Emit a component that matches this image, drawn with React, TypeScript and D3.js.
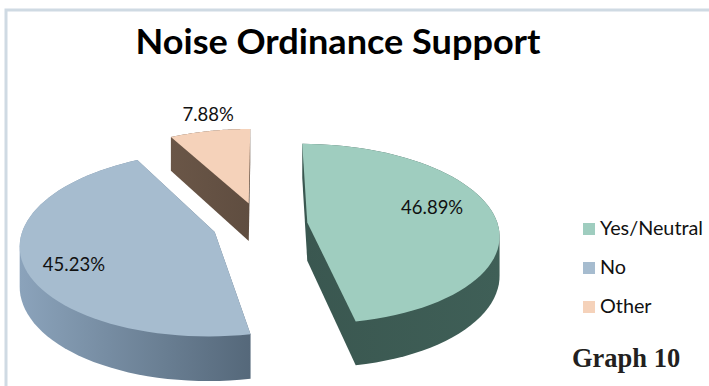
import React from "react";
import * as d3 from "d3";

const categories = ["Yes/Neutral", "No", "Other"];
const shares = [46.89, 45.23, 7.88];
const shareLabels = ["46.89%", "45.23%", "7.88%"];
const topColors = ["#9fcdbf", "#a6bccf", "#f5d2ba"];
const wallLeft = ["#3a5750", "#8ba3bb", "#6a5647"];
const wallRight = ["#3f5f57", "#55687a", "#5f4d40"];
const labelShift = [-9, -7, 2];
const labelRadius = [0.7, 0.77, 1.25];
const legendRows = [229, 268, 307];

const W = 709;
const H = 386;
const cx = 260;
const cy = 224.5;
const radiusX = 190.5;
const radiusY = 89;
const tilt = 0.127;
const depth = 38.5;
const explode = 0.25;
const startDeg = 0.1;

type Pt = [number, number];

const rad = (d: number) => (d * Math.PI) / 180;

// Perspective projection of a point on the unit disc, optionally dropped by the wall height.
const project = (u: number, v: number, drop = 0): Pt => {
  const w = 1 - tilt * v;
  return [cx + (radiusX * u) / w, cy + (radiusY * v + drop) / w];
};

const arcs = d3
  .pie<number>()
  .sort(null)
  .startAngle(rad(startDeg))
  .endAngle(rad(startDeg + 360))(shares);

const toPath = (pts: Pt[]) => (d3.line()(pts) ?? "") + "Z";

const slices = arcs.map((a, i) => {
  const mid = (a.startAngle + a.endAngle) / 2;
  const ou = explode * Math.sin(mid);
  const ov = -explode * Math.cos(mid);
  const unit = d3.range(0, 61).map((k) => {
    const t = a.startAngle + ((a.endAngle - a.startAngle) * k) / 60;
    return [ou + Math.sin(t), ov - Math.cos(t)] as Pt;
  });
  const outline: Pt[] = [[ou, ov], ...unit];
  const top = outline.map(([u, v]) => project(u, v));
  const bottom = outline.map(([u, v]) => project(u, v, depth));
  const hull = d3.polygonHull([...top, ...bottom]) as Pt[];
  const la = mid + rad(labelShift[i]);
  const label = project(
    ou + labelRadius[i] * Math.sin(la),
    ov - labelRadius[i] * Math.cos(la)
  );
  const xs = hull.map((p) => p[0]);
  return {
    i,
    top,
    hull,
    label,
    x0: d3.min(xs) as number,
    x1: d3.max(xs) as number,
  };
});

const sans = "Lato, 'Open Sans', sans-serif";

export default function App() {
  return (
    <svg
      width={W}
      height={H}
      viewBox={`0 0 ${W} ${H}`}
      style={{ position: "absolute", left: 0, top: 0, background: "#fff" }}
    >
      <defs>
        {slices.map((s) => (
          <linearGradient
            key={s.i}
            id={`wall-${s.i}`}
            gradientUnits="userSpaceOnUse"
            x1={s.x0}
            x2={s.x1}
            y1={0}
            y2={0}
          >
            <stop offset="0" stopColor={wallLeft[s.i]} />
            <stop offset="1" stopColor={wallRight[s.i]} />
          </linearGradient>
        ))}
      </defs>

      <path d={`M${W} 10H6V${H}`} fill="none" stroke="#cfdae3" strokeWidth={3} />

      <text
        x={338}
        y={54}
        textAnchor="middle"
        fontFamily={sans}
        fontWeight={700}
        fontSize={34}
        textLength={405}
        lengthAdjust="spacingAndGlyphs"
        fill="#000"
      >
        Noise Ordinance Support
      </text>

      {slices.map((s) => (
        <g key={s.i}>
          <path d={toPath(s.hull)} fill={`url(#wall-${s.i})`} />
          <path d={toPath(s.top)} fill={topColors[s.i]} />
        </g>
      ))}

      {slices.map((s) => (
        <text
          key={s.i}
          x={s.label[0]}
          y={s.label[1]}
          dy="0.35em"
          textAnchor="middle"
          fontFamily={sans}
          fontSize={18.5}
          fill="#111"
        >
          {shareLabels[s.i]}
        </text>
      ))}

      {categories.map((c, i) => (
        <g key={c}>
          <rect x={583} y={legendRows[i] - 6} width={12} height={12} fill={topColors[i]} />
          <text x={600} y={legendRows[i] + 6} fontFamily={sans} fontSize={19.8} fill="#111">
            {c}
          </text>
        </g>
      ))}

      <text
        x={572}
        y={367}
        fontFamily="'Liberation Serif', serif"
        fontWeight={700}
        fontSize={26.5}
        fill="#231f20"
      >
        Graph 10
      </text>
    </svg>
  );
}
